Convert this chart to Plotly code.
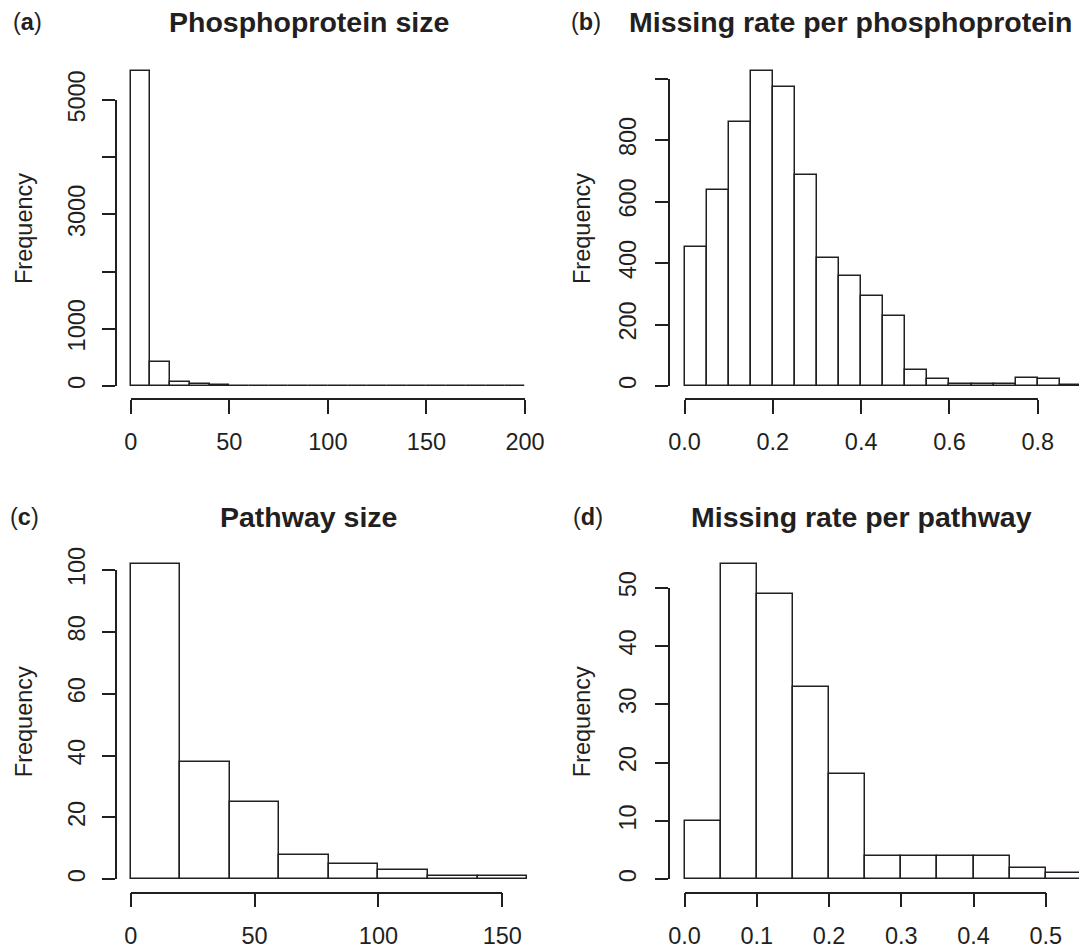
import plotly.graph_objects as go

# ---------------- data ----------------
# (a) Phosphoprotein size: bin left edges, bin width, counts
phos_size_edges = [0, 10, 20, 30, 40, 50, 60, 70, 80, 90, 100, 110, 120, 130, 140, 150, 160, 170, 180, 190]
phos_size_binw = 10
phos_size_counts = [5510, 415, 78, 30, 12, 5, 5, 5, 1, 1, 1, 1, 1, 1, 1, 1, 5, 1, 1, 5]

# (b) Missing rate per phosphoprotein
phos_miss_edges = [0.0, 0.05, 0.1, 0.15, 0.2, 0.25, 0.3, 0.35, 0.4, 0.45, 0.5, 0.55, 0.6, 0.65, 0.7, 0.75, 0.8, 0.85]
phos_miss_binw = 0.05
phos_miss_counts = [451, 636, 859, 1024, 971, 686, 416, 359, 294, 227, 53, 22, 8, 5, 8, 27, 22, 4]

# (c) Pathway size
path_size_edges = [0, 20, 40, 60, 80, 100, 120, 140]
path_size_binw = 20
path_size_counts = [102, 38, 25, 8, 5, 3, 1, 1]

# (d) Missing rate per pathway
path_miss_edges = [0.0, 0.05, 0.1, 0.15, 0.2, 0.25, 0.3, 0.35, 0.4, 0.45, 0.5]
path_miss_binw = 0.05
path_miss_counts = [10, 54, 49, 33, 18, 4, 4, 4, 4, 2, 1]

titles = ["Phosphoprotein size", "Missing rate per phosphoprotein", "Pathway size", "Missing rate per pathway"]
panel_letters = ["a", "b", "c", "d"]
ylabel = "Frequency"

# tick values / labels
a_xticks = [0, 50, 100, 150, 200]
a_xtext = ["0", "50", "100", "150", "200"]
a_yticks = [0, 1000, 2000, 3000, 4000, 5000]
a_ytext = ["0", "1000", "", "3000", "", "5000"]
b_xticks = [0.0, 0.2, 0.4, 0.6, 0.8]
b_xtext = ["0.0", "0.2", "0.4", "0.6", "0.8"]
b_yticks = [0, 200, 400, 600, 800, 1000]
b_ytext = ["0", "200", "400", "600", "800", ""]
c_xticks = [0, 50, 100, 150]
c_xtext = ["0", "50", "100", "150"]
c_yticks = [0, 20, 40, 60, 80, 100]
c_ytext = ["0", "20", "40", "60", "80", "100"]
d_xticks = [0.0, 0.1, 0.2, 0.3, 0.4, 0.5]
d_xtext = ["0.0", "0.1", "0.2", "0.3", "0.4", "0.5"]
d_yticks = [0, 10, 20, 30, 40, 50]
d_ytext = ["0", "10", "20", "30", "40", "50"]

# ---------------- layout geometry (pixels) ----------------
W, H = 1079, 948
INK = "#231f20"
FONT = "Liberation Sans, Arial, Helvetica, sans-serif"
LW = 1.5


def px(x):
    return x / W


def py(y):
    return 1 - y / H


# per panel: pixel of x=0, pixels per x-unit, plot-area left/right pixels,
# pixel of y=0 (baseline), pixels per y-unit, plot-area top pixel
panels = [
    dict(edges=phos_size_edges, w=phos_size_binw, counts=phos_size_counts,
         x0=130.7, xs=394.3 / 200, L=114.0, R=541.0, y0=386.0, ys=286.0 / 5000, T=58.0,
         dxr=(0, 200), dxpos=399.0, dyr=(0, 5000), dypos=116.0,
         xt=a_xticks, xtt=a_xtext, yt=a_yticks, ytt=a_ytext, ystand=8),
    dict(edges=phos_miss_edges, w=phos_miss_binw, counts=phos_miss_counts,
         x0=684.5, xs=353.3 / 0.8, L=668.0, R=1079.0, y0=386.0, ys=246.0 / 800, T=58.0,
         dxr=(0, 0.8), dxpos=399.0, dyr=(0, 1000), dypos=669.0,
         xt=b_xticks, xtt=b_xtext, yt=b_yticks, ytt=b_ytext, ystand=10),
    dict(edges=path_size_edges, w=path_size_binw, counts=path_size_counts,
         x0=130.7, xs=371.6 / 150, L=114.0, R=541.0, y0=879.3, ys=309.3 / 100, T=551.0,
         dxr=(0, 150), dxpos=892.7, dyr=(0, 100), dypos=116.0,
         xt=c_xticks, xtt=c_xtext, yt=c_yticks, ytt=c_ytext, ystand=8),
    dict(edges=path_miss_edges, w=path_miss_binw, counts=path_miss_counts,
         x0=684.5, xs=361.3 / 0.5, L=668.0, R=1079.0, y0=879.3, ys=291.6 / 50, T=551.0,
         dxr=(0, 0.5), dxpos=892.7, dyr=(0, 50), dypos=669.0,
         xt=d_xticks, xtt=d_xtext, yt=d_yticks, ytt=d_ytext, ystand=10),
]

fig = go.Figure()
layout = {}
tickfont = dict(family=FONT, size=23.5, color=INK)

for i, p in enumerate(panels):
    k = i + 1
    kd = i + 5
    xa = "x" if k == 1 else f"x{k}"
    ya = "y" if k == 1 else f"y{k}"
    # visible bars
    fig.add_trace(go.Bar(
        x=p["edges"], y=p["counts"], width=[p["w"]] * len(p["edges"]), offset=0,
        marker=dict(color="white", line=dict(color=INK, width=LW)),
        xaxis=xa, yaxis=ya, hoverinfo="x+y", showlegend=False))
    # transparent copy on the R-style offset axes
    fig.add_trace(go.Bar(
        x=p["edges"], y=p["counts"], width=[p["w"]] * len(p["edges"]), offset=0,
        marker=dict(color="rgba(0,0,0,0)", line=dict(width=0)),
        xaxis=f"x{kd}", yaxis=f"y{kd}", hoverinfo="skip", showlegend=False))

    xr = [(p["L"] - p["x0"]) / p["xs"], (p["R"] - p["x0"]) / p["xs"]]
    yr = [0, (p["y0"] - p["T"]) / p["ys"]]
    layout[f"xaxis{'' if k == 1 else k}"] = dict(
        domain=[px(p["L"]), px(p["R"])], range=xr,
        anchor=ya, visible=False, fixedrange=True)
    layout[f"yaxis{'' if k == 1 else k}"] = dict(
        domain=[py(p["y0"]), py(p["T"])], range=yr,
        anchor=xa, visible=False, fixedrange=True)

    dx = [p["x0"] + p["dxr"][0] * p["xs"], p["x0"] + p["dxr"][1] * p["xs"]]
    dy = [p["y0"] - p["dyr"][0] * p["ys"], p["y0"] - p["dyr"][1] * p["ys"]]
    layout[f"xaxis{kd}"] = dict(
        domain=[px(dx[0]), px(dx[1])], range=list(p["dxr"]),
        anchor="free", position=py(p["dxpos"]),
        showline=True, linecolor=INK, linewidth=LW,
        ticks="outside", ticklen=14, tickwidth=LW, tickcolor=INK,
        tickvals=p["xt"], ticktext=p["xtt"], tickfont=tickfont,
        ticklabelstandoff=8,
        showgrid=False, zeroline=False, fixedrange=True)
    layout[f"yaxis{kd}"] = dict(
        domain=[py(dy[0]), py(dy[1])], range=list(p["dyr"]),
        anchor="free", position=px(p["dypos"]), side="left",
        showline=True, linecolor=INK, linewidth=LW,
        ticks="outside", ticklen=13, tickwidth=LW, tickcolor=INK,
        tickvals=p["yt"], ticktext=p["ytt"], tickfont=tickfont, tickangle=-90,
        ticklabelstandoff=p["ystand"],
        showgrid=False, zeroline=False, fixedrange=True)

annotations = []
title_pos = [(309.0, 22.0), (850.5, 22.0), (308.5, 517.0), (861.0, 517.0)]
letter_pos = [(11.0, 22.0), (569.0, 22.0), (8.0, 517.0), (571.0, 517.0)]
ylab_pos = [(23.5, 228.5), (581.5, 228.5), (23.5, 721.7), (581.5, 721.7)]
for i in range(4):
    annotations.append(dict(
        text=f"<b>{titles[i]}</b>", x=px(title_pos[i][0]), y=py(title_pos[i][1]),
        xref="paper", yref="paper", xanchor="center", yanchor="middle",
        showarrow=False, font=dict(family=FONT, size=28.5, color=INK)))
    annotations.append(dict(
        text=f"(<b>{panel_letters[i]}</b>)", x=px(letter_pos[i][0]), y=py(letter_pos[i][1]),
        xref="paper", yref="paper", xanchor="left", yanchor="middle",
        showarrow=False, font=dict(family=FONT, size=23.5, color=INK)))
    annotations.append(dict(
        text=ylabel, x=px(ylab_pos[i][0]), y=py(ylab_pos[i][1]),
        xref="paper", yref="paper", xanchor="center", yanchor="middle",
        textangle=-90, showarrow=False, font=dict(family=FONT, size=23.5, color=INK)))

fig.update_layout(
    **layout,
    annotations=annotations,
    width=W, height=H,
    margin=dict(l=0, r=0, t=0, b=0, autoexpand=False),
    paper_bgcolor="white", plot_bgcolor="rgba(0,0,0,0)",
    template="none", showlegend=False, barmode="overlay", bargap=0,
    font=dict(family=FONT, color=INK),
)

fig.write_html(
    "out.html",
    config={"displayModeBar": False},
    post_script="document.body.style.margin='0px';document.body.style.padding='0px';document.body.style.overflow='hidden';",
)
